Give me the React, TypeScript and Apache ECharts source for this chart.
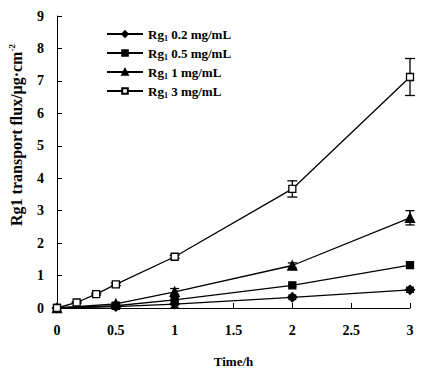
import React, { useEffect, useRef } from "react";
import * as echarts from "echarts";

const seriesNames = ["Rg1 0.2 mg/mL", "Rg1 0.5 mg/mL", "Rg1 1 mg/mL", "Rg1 3 mg/mL"];
const legendLabels = ["0.2 mg/mL", "0.5 mg/mL", "1 mg/mL", "3 mg/mL"];

const timesShort = [0, 0.5, 1, 2, 3];
const timesLong = [0, 0.167, 0.333, 0.5, 1, 2, 3];

const flux02 = [0, 0.04, 0.12, 0.33, 0.56];
const err02 = [0, 0.02, 0.1, 0.07, 0.08];
const flux05 = [0, 0.07, 0.25, 0.7, 1.32];
const err05 = [0, 0.02, 0.1, 0.04, 0.05];
const flux1 = [0, 0.13, 0.5, 1.31, 2.78];
const err1 = [0, 0.03, 0.1, 0.08, 0.22];
const flux3 = [0, 0.17, 0.43, 0.73, 1.58, 3.67, 7.12];
const err3 = [0, 0.02, 0.03, 0.04, 0.05, 0.25, 0.57];

const xTicks = ["0", "0.5", "1", "1.5", "2", "2.5", "3"];
const yTicks = ["0", "1", "2", "3", "4", "5", "6", "7", "8", "9"];

const FONT = "Liberation Serif";

function zip(xs: number[], ys: number[], es?: number[]) {
  return xs.map((x, i) => (es ? [x, ys[i], es[i]] : [x, ys[i]]));
}

function errSeries(name: string, data: number[][], cap: number) {
  return {
    type: "custom",
    name,
    z: 1,
    silent: true,
    data,
    encode: { x: 0, y: 1 },
    renderItem: (params: any, api: any) => {
      const x = api.value(0);
      const y = api.value(1);
      const e = api.value(2);
      if (!e) return null;
      const top = api.coord([x, y + e]);
      const bot = api.coord([x, y - e]);
      const style = { stroke: "#000", lineWidth: 1.3 };
      return {
        type: "group",
        children: [
          { type: "line", shape: { x1: top[0], y1: top[1], x2: bot[0], y2: bot[1] }, style },
          { type: "line", shape: { x1: top[0] - cap / 2, y1: top[1], x2: top[0] + cap / 2, y2: top[1] }, style },
          { type: "line", shape: { x1: bot[0] - cap / 2, y1: bot[1], x2: bot[0] + cap / 2, y2: bot[1] }, style },
        ],
      };
    },
  };
}

function lineSeries(name: string, data: number[][], symbol: string, size: number, fill: string) {
  return {
    type: "line",
    name,
    z: 3,
    data,
    symbol,
    symbolSize: size,
    showSymbol: true,
    lineStyle: { color: "#000", width: 1.3 },
    itemStyle: { color: fill, borderColor: "#000", borderWidth: 1.3, opacity: 1 },
  };
}

export default function App() {
  const ref = useRef<HTMLDivElement>(null);
  useEffect(() => {
    if (!ref.current) return;
    const chart = echarts.init(ref.current, undefined, { renderer: "svg" });
    const textBase = { fontFamily: FONT, fontWeight: "bold" as const, color: "#000" };
    chart.setOption({
      animation: false,
      backgroundColor: "#fff",
      grid: { left: 57, right: 16, top: 16, bottom: 63 },
      legend: {
        orient: "vertical",
        left: 101,
        top: 21,
        itemWidth: 36,
        itemHeight: 7,
        itemGap: 3,
        data: seriesNames,
        formatter: (n: string) => {
          const i = seriesNames.indexOf(n);
          return "{a|Rg}{s|1}{a| " + legendLabels[i] + "}";
        },
        textStyle: {
          ...textBase,
          rich: {
            a: { ...textBase, fontSize: 13, lineHeight: 14 },
            s: { ...textBase, fontSize: 8, lineHeight: 14, padding: [8, 0, 0, 0] },
          },
        },
      },
      graphic: [
        {
          type: "text",
          x: 16,
          y: 135,
          rotation: Math.PI / 2,
          style: {
            text: "{a|Rg1 transport flux/μg·cm}{s|-2}",
            align: "center",
            verticalAlign: "middle",
            rich: {
              a: { ...textBase, fontSize: 16 },
              s: { ...textBase, fontSize: 9, padding: [0, 0, 9, 0] },
            },
          },
        },
      ],
      xAxis: {
        type: "value",
        min: 0,
        max: 3,
        interval: 0.5,
        name: "Time/h",
        nameLocation: "middle",
        nameGap: 47,
        nameTextStyle: { ...textBase, fontSize: 13 },
        axisLine: { lineStyle: { color: "#000", width: 1 } },
        axisTick: { inside: true, length: 5, lineStyle: { color: "#000" } },
        axisLabel: {
          ...textBase,
          fontSize: 14,
          margin: 15,
          formatter: (v: number) => xTicks[Math.round(v / 0.5)] ?? "",
        },
        splitLine: { show: false },
      },
      yAxis: {
        type: "value",
        min: 0,
        max: 9,
        interval: 1,
        axisLine: { show: true, lineStyle: { color: "#000", width: 1 } },
        axisTick: { show: true, inside: true, length: 5, lineStyle: { color: "#000" } },
        axisLabel: {
          ...textBase,
          fontSize: 14,
          margin: 13,
          formatter: (v: number) => yTicks[Math.round(v)] ?? "",
        },
        splitLine: { show: false },
      },
      series: [
        errSeries("e02", zip(timesShort, flux02, err02), 8),
        errSeries("e05", zip(timesShort, flux05, err05), 8),
        errSeries("e1", zip(timesShort, flux1, err1), 9),
        errSeries("e3", zip(timesLong, flux3, err3), 10),
        lineSeries(seriesNames[0], zip(timesShort, flux02), "diamond", 9, "#000"),
        lineSeries(seriesNames[1], zip(timesShort, flux05), "rect", 7, "#000"),
        lineSeries(seriesNames[2], zip(timesShort, flux1), "triangle", 9, "#000"),
        lineSeries(seriesNames[3], zip(timesLong, flux3), "rect", 7, "#fff"),
      ],
    });
    return () => chart.dispose();
  }, []);
  return <div ref={ref} style={{ width: 426, height: 373, position: "absolute", left: 0, top: 0 }} />;
}
